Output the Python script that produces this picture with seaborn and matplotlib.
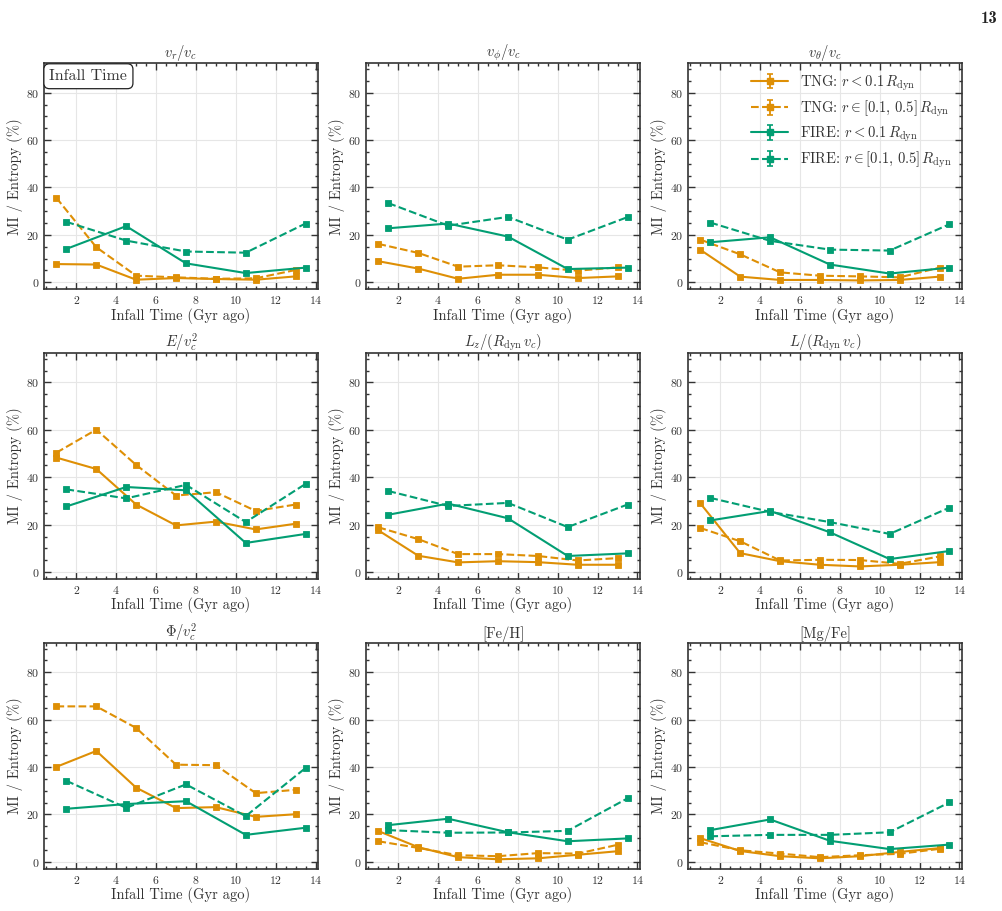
import numpy as np
import pandas as pd
import seaborn as sns
import matplotlib
matplotlib.use("Agg")
import matplotlib.pyplot as plt
from matplotlib.ticker import AutoMinorLocator, MultipleLocator
from matplotlib.container import ErrorbarContainer
from matplotlib.collections import LineCollection
from matplotlib.lines import Line2D

# ---------------- data ----------------
tng_x = [1, 3, 5, 7, 9, 11, 13]
fire_x = [1.5, 4.5, 7.5, 10.5, 13.5]

titles = [r"$v_r/v_c$", r"$v_\phi/v_c$", r"$v_\theta/v_c$",
          r"$E/v_c^2$", r"$L_z/(R_{\rm dyn}\,v_c)$", r"$L/(R_{\rm dyn}\,v_c)$",
          r"$\Phi/v_c^2$", "[Fe/H]", "[Mg/Fe]"]

tng_inner = [
    [7.7, 7.5, 1.1, 1.8, 1.4, 1.1, 2.5],
    [8.9, 5.8, 1.5, 3.2, 3.2, 1.8, 2.5],
    [13.7, 2.4, 1.0, 1.0, 0.8, 1.0, 2.4],
    [48.3, 43.5, 28.5, 19.7, 21.3, 18.0, 20.4],
    [17.6, 6.9, 4.1, 4.6, 4.2, 3.1, 3.1],
    [29.0, 8.0, 4.6, 3.1, 2.4, 3.1, 4.2],
    [40.1, 46.8, 31.3, 22.7, 23.1, 19.0, 20.1],
    [13.0, 6.2, 2.0, 1.1, 1.5, 3.0, 4.5],
    [10.0, 4.6, 2.4, 1.5, 2.4, 4.2, 5.8],
]
tng_outer = [
    [35.6, 14.8, 2.8, 2.1, 1.5, 1.7, 5.2],
    [16.2, 12.4, 6.6, 7.2, 6.3, 4.9, 6.3],
    [18.0, 11.8, 4.2, 2.8, 2.5, 2.1, 6.2],
    [50.4, 60.1, 45.2, 32.3, 33.7, 25.8, 28.5],
    [18.9, 13.9, 7.6, 7.6, 6.8, 4.9, 5.9],
    [18.6, 13.0, 4.9, 5.2, 5.1, 3.5, 6.6],
    [65.6, 65.6, 56.5, 41.0, 40.8, 29.0, 30.4],
    [8.7, 5.9, 2.8, 2.4, 3.7, 3.5, 7.2],
    [8.3, 4.9, 3.5, 2.0, 2.8, 3.4, 5.5],
]
fire_inner = [
    [14.1, 23.7, 8.0, 3.9, 6.2],
    [22.8, 24.8, 19.3, 5.6, 6.2],
    [16.9, 19.0, 7.5, 3.7, 6.2],
    [27.7, 35.9, 34.5, 12.3, 16.1],
    [24.2, 28.9, 22.7, 6.8, 7.9],
    [21.8, 25.8, 16.8, 5.5, 8.9],
    [22.4, 24.4, 25.6, 11.4, 14.4],
    [15.5, 18.2, 12.5, 8.7, 9.9],
    [13.4, 17.9, 8.9, 5.4, 7.3],
]
fire_outer = [
    [25.5, 17.6, 13.0, 12.5, 24.8],
    [33.4, 23.9, 27.6, 18.0, 27.5],
    [25.2, 17.5, 13.8, 13.4, 24.5],
    [34.9, 31.1, 36.8, 21.1, 37.2],
    [34.2, 27.9, 29.2, 19.0, 28.5],
    [31.3, 25.4, 21.1, 16.1, 27.2],
    [34.2, 22.8, 32.7, 19.3, 39.6],
    [13.4, 12.3, 12.4, 13.1, 26.8],
    [10.8, 11.4, 11.4, 12.5, 25.1],
]

labels = [r"TNG: $r < 0.1\,R_{\rm dyn}$",
          r"TNG: $r \in [0.1,\,0.5]\,R_{\rm dyn}$",
          r"FIRE: $r < 0.1\,R_{\rm dyn}$",
          r"FIRE: $r \in [0.1,\,0.5]\,R_{\rm dyn}$"]

# ---------------- style ----------------
sns.set_theme(style="ticks", palette="colorblind")
pal = sns.color_palette("colorblind")
c_tng, c_fire = pal[1], pal[2]
txt = "#333333"
plt.rcParams.update({
    "font.family": ["cmr10", "DejaVu Serif"],
    "mathtext.fontset": "cm",
    "axes.formatter.use_mathtext": True,
    "axes.unicode_minus": False,
    "text.color": txt,
    "axes.labelcolor": txt,
    "xtick.color": txt,
    "ytick.color": txt,
    "axes.edgecolor": "#333333",
    "axes.linewidth": 1.2,
})

fig, axes = plt.subplots(3, 3, figsize=(10.02, 9.11), dpi=100)
fig.subplots_adjust(left=0.0439, right=0.960, top=0.9308, bottom=0.0461,
                    wspace=0.175, hspace=0.28)

series = [
    (tng_x, tng_inner, c_tng, "-"),
    (tng_x, tng_outer, c_tng, "--"),
    (fire_x, fire_inner, c_fire, "-"),
    (fire_x, fire_outer, c_fire, "--"),
]

for i, ax in enumerate(axes.flat):
    ax.grid(True, color="#e6e6e6", lw=0.8, zorder=0)
    for xs, ys, col, ls in series:
        df = pd.DataFrame({"x": xs, "y": ys[i]})
        sns.lineplot(data=df, x="x", y="y", ax=ax, color=col, linestyle=ls,
                     marker="s", markersize=4.8, markeredgecolor=col,
                     markeredgewidth=0.6, lw=1.5, legend=False, zorder=3)
    ax.set_ylim(-3, 92.5)
    ax.set_xlim(0.375, 14.125)
    ax.xaxis.set_major_locator(MultipleLocator(2))
    ax.yaxis.set_major_locator(MultipleLocator(20))
    ax.xaxis.set_minor_locator(AutoMinorLocator(4))
    ax.yaxis.set_minor_locator(AutoMinorLocator(4))
    ax.tick_params(which="both", direction="in", top=True, right=True,
                   labelsize=8.5, width=1.0)
    ax.tick_params(which="major", length=5)
    ax.tick_params(which="minor", length=2.5)
    ax.set_xlabel("Infall Time (Gyr ago)", fontsize=10.5, labelpad=1)
    ax.set_ylabel("MI / Entropy (%)", fontsize=10.5, labelpad=2)
    ax.set_title(titles[i], fontsize=10.5, pad=3)

axes[0, 0].text(0.02, 0.972, "Infall Time", transform=axes[0, 0].transAxes,
                ha="left", va="top", fontsize=11.5, zorder=5,
                bbox=dict(boxstyle="round,pad=0.35", fc="white", ec="#222222", lw=0.9))


def eb_handle(color, ls):
    line = Line2D([], [], color=color, linestyle=ls, marker="s",
                  markersize=5, lw=1.5)
    cap = Line2D([], [], color=color, marker="_", markersize=5,
                 linestyle="none", markeredgewidth=1.2)
    bar = LineCollection([], colors=[color], linewidths=1.3)
    return ErrorbarContainer((line, (cap, cap), (bar,)), has_xerr=False, has_yerr=True)


handles = [eb_handle(c, ls) for _, _, c, ls in series]
axes[0, 2].legend(handles, labels, loc="upper right", fontsize=10.5,
                  frameon=False, handlelength=2.6, handletextpad=0.8,
                  labelspacing=0.4, borderaxespad=0.3)

fig.text(0.996, 0.988, "13", ha="right", va="top", fontsize=12,
         family="cmb10", color="#222222")

fig.savefig("out.png", dpi=100)
